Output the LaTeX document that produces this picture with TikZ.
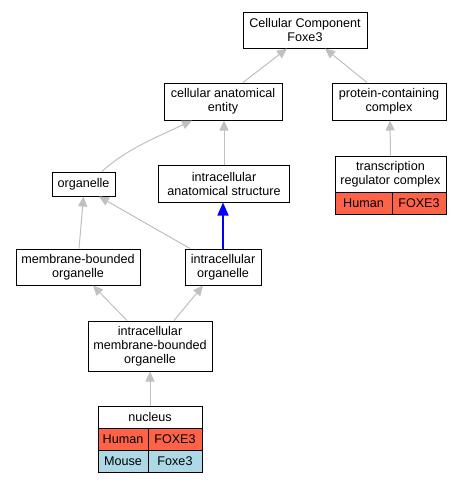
\documentclass[tikz,border=0pt]{standalone}
\usepackage{fontspec}
\setmainfont{Liberation Sans}
\usetikzlibrary{arrows.meta}
\definecolor{edgegray}{HTML}{C0C0C0}
\definecolor{humancol}{HTML}{FF6347}
\definecolor{mousecol}{HTML}{ADD8E6}
\begin{document}
\begin{tikzpicture}[x=1pt,y=-1pt,
  box/.style={draw=black,line width=1.0pt,fill=white,inner sep=0pt,align=center,
    font=\fontsize{12.6}{14}\selectfont},
  cell/.style={draw=black,line width=0.9pt,inner sep=0pt,align=center,
    font=\fontsize{12.6}{14}\selectfont},
  edge/.style={draw=edgegray,line width=1pt,-{Triangle[length=10pt,width=9pt]},edgegray},
  blueedge/.style={draw=blue,line width=1.6pt,-{Triangle[length=13pt,width=11pt]},blue}]
\useasboundingbox[fill=white] (0,0) rectangle (463,483);

\node[box,minimum width=124,minimum height=36] (cc) at (305,30) {Cellular Component\\Foxe3};
\node[box,minimum width=118,minimum height=37] (cae) at (223,101.5) {cellular anatomical\\entity};
\node[box,minimum width=114,minimum height=37] (pcc) at (389,101.5) {protein-containing\\complex};
\node[box,minimum width=63,minimum height=24] (org) at (83.5,184) {organelle};
\node[box,minimum width=131,minimum height=37] (ias) at (224,183.5) {intracellular\\anatomical structure};
\node[box,minimum width=124,minimum height=36] (mbo) at (78,267) {membrane-bounded\\organelle};
\node[box,minimum width=76,minimum height=36] (io) at (223,267) {intracellular\\organelle};
\node[box,minimum width=124,minimum height=50] (imbo) at (150,346) {intracellular\\membrane-bounded\\organelle};

% transcription regulator complex table
\node[cell,minimum width=111,minimum height=36] (trc) at (390.5,174) {transcription\\regulator complex};
\node[cell,fill=humancol,minimum width=57,minimum height=22] (trch) at (363.5,203) {Human};
\node[cell,fill=humancol,minimum width=54,minimum height=22] (trcg) at (419,203) {FOXE3};

% nucleus table
\node[cell,minimum width=104,minimum height=22] (nuc) at (150,417) {nucleus};
\node[cell,fill=humancol,minimum width=50,minimum height=22] (nuch) at (123,439) {Human};
\node[cell,fill=humancol,minimum width=54,minimum height=22] (nucg) at (175,439) {FOXE3};
\node[cell,fill=mousecol,minimum width=50,minimum height=22] (nucm) at (123,461) {Mouse};
\node[cell,fill=mousecol,minimum width=54,minimum height=22] (nucf) at (175,461) {Foxe3};

% edges
\draw[edge] ([xshift=20pt]cae.north) -- ([xshift=-18pt]cc.south);
\draw[edge] ([xshift=-22pt]pcc.north) -- ([xshift=20pt]cc.south);
\draw[edge] ([xshift=18.5pt]org.north) .. controls (125,150) and (155,138) .. ([xshift=-31pt]cae.south);
\draw[edge] (ias.north) -- (ias.north |- cae.south);
\draw[edge] (trc.north) -- ([xshift=1pt]pcc.south);
\draw[edge] ([xshift=1pt]mbo.north) -- (org.south);
\draw[edge] ([xshift=-33pt]io.north) -- ([xshift=15.5pt]org.south);
\draw[blueedge] (io.north) -- (io.north |- ias.south);
\draw[edge] ([xshift=-23pt]imbo.north) -- ([xshift=15pt]mbo.south);
\draw[edge] ([xshift=24pt]imbo.north) -- ([xshift=-20pt]io.south);
\draw[edge] (nuc.north) -- (imbo.south);
\end{tikzpicture}
\end{document}
